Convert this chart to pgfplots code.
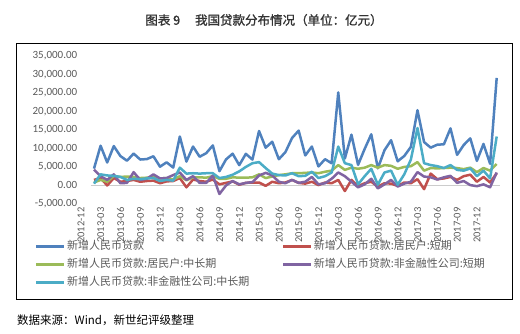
\documentclass[border=0pt]{standalone}
\usepackage{pgfplots}
\pgfplotsset{compat=1.18}
\usepackage{fontspec}
\setmainfont{Carlito}
\newfontfamily\cjk{Noto Sans CJK SC}
\newfontfamily\cjkb[FakeBold=1.2]{Noto Sans CJK SC}
\definecolor{cB}{HTML}{4F81BD}
\definecolor{cR}{HTML}{C0504D}
\definecolor{cG}{HTML}{9BBB59}
\definecolor{cP}{HTML}{8064A2}
\definecolor{cT}{HTML}{4BACC6}
\definecolor{txt}{HTML}{595959}
\pgfplotstableread{
i B R G P T
0 4543 1500 800 4300 500
1 10721 2000 1500 2500 3000
2 6200 0 1000 1500 2700
3 10625 2000 2600 3000 2600
4 7929 1000 2300 600 2300
5 6674 1200 2400 700 1500
6 8605 1500 2300 3600 1800
7 6999 1000 2000 1500 1700
8 7113 1200 2100 1800 1900
9 7870 1300 2300 3000 2000
10 5061 600 1900 1900 1200
11 6246 1100 2000 2000 1500
12 4825 1200 1600 2800 1300
13 13200 2000 2500 3500 4800
14 6445 -500 1400 1500 3200
15 10500 1600 2200 2500 3300
16 7747 1200 2200 700 3200
17 8708 1000 2100 700 3300
18 10800 1600 2500 2700 3300
19 3852 300 1800 -2300 2000
20 7025 700 1800 0 2300
21 8572 1100 2200 1200 2900
22 5483 200 2100 300 3800
23 8527 700 2100 700 5000
24 6973 800 2200 900 6000
25 14700 800 3000 2700 6300
26 10200 -100 2000 3400 4700
27 11800 1000 2400 2700 3200
28 7079 600 2800 1000 2800
29 9008 800 3000 600 2700
30 12800 1500 3300 1500 3300
31 14800 700 3300 700 2500
32 8096 500 3400 1000 2600
33 10500 1000 3500 2300 3700
34 5136 100 3300 300 2000
35 7089 800 3700 600 2500
36 5978 600 4000 1800 3500
37 25100 1500 5500 3500 10500
38 7266 -1500 4200 2500 6000
39 13700 1500 4800 1000 5500
40 5556 -200 4500 -500 300
41 9855 600 4800 300 2500
42 13800 1000 5500 1800 4500
43 4636 -300 4800 -800 200
44 9487 600 5500 300 3500
45 12200 500 5300 1500 4000
46 6513 -100 4500 -300 200
47 7946 800 5000 500 3000
48 10400 600 5200 1000 7000
49 20300 1700 6300 3600 15500
50 11700 -1000 4000 2400 6000
51 10200 3200 4700 2200 5500
52 11000 1700 4600 1600 5200
53 11100 1900 4700 2200 4700
54 15400 2300 4800 2600 5500
55 8255 1500 4700 700 4200
56 10900 2500 4400 1200 4000
57 12700 2900 4800 100 4600
58 6632 1000 3600 -200 2500
59 11200 2300 4700 300 4000
60 5844 800 4000 -500 1900
61 29000 3300 5800 3500 13200
}\data
\begin{document}
\begin{tikzpicture}[x=1pt,y=1pt]
\useasboundingbox (-90.7,-129) rectangle (429.3,204);
\draw[black, line width=0.8pt] (-74.7,161) rectangle (421.3,-95);
\node[font=\cjkb\fontsize{12.5}{14}\selectfont, text=black!80] at (173.3,184) {图表 9\hspace{1.2em}我国贷款分布情况（单位：亿元）};
\node[anchor=west, font=\cjk\fontsize{11.5}{13}\selectfont, inner xsep=0pt] at (-73.7,-116) {数据来源：Wind，新世纪评级整理};
\begin{axis}[
  at={(0,0)}, anchor=south west,
  scale only axis, width=409.3pt, height=148.3pt,
  xmin=-0.5, xmax=61.5, ymin=-5000, ymax=35000,
  axis line style={draw=none},
  tick style={draw=none},
  ytick={-5000,0,...,35000},
  yticklabel style={text=txt, font=\fontsize{11}{12}\selectfont, xshift=-10pt, /pgf/number format/.cd, fixed, fixed zerofill, precision=2, 1000 sep={,}, assume math mode=true},
  scaled y ticks=false,
  xtick={0,3,...,60},
  xticklabels={2012-12,2013-03,2013-06,2013-09,2013-12,2014-03,2014-06,2014-09,2014-12,2015-03,2015-06,2015-09,2015-12,2016-03,2016-06,2016-09,2016-12,2017-03,2017-06,2017-09,2017-12},
  xticklabel style={rotate=90, anchor=east, text=txt, font=\fontsize{10.5}{12}\selectfont, yshift=13pt},
  extra y ticks={0}, extra y tick labels={},
  extra y tick style={grid=major, grid style={draw=black!20, line width=0.5pt}},
  every axis plot/.append style={line width=2.5pt, no markers, line join=round},
  legend columns=2,
  legend cell align=left,
  legend image code/.code={\draw[#1] (0pt,0pt) -- (28pt,0pt);},
  legend style={at={(axis description cs:-0.136,-0.249)}, anchor=north west, draw=none, fill=none,
    font=\cjk\fontsize{11}{12}\selectfont, text=txt,
    /tikz/every even column/.append style={column sep=31pt},
    row sep=7pt, inner xsep=0pt, inner ysep=0pt,
    nodes={inner xsep=1.5pt, inner ysep=0pt, text height=8.5pt, text depth=2.5pt}},
]
\addplot[cB] table[x=i,y=B] {\data};
\addlegendentry{新增人民币贷款}
\addplot[cR] table[x=i,y=R] {\data};
\addlegendentry{新增人民币贷款:居民户:短期}
\addplot[cG] table[x=i,y=G] {\data};
\addlegendentry{新增人民币贷款:居民户:中长期}
\addplot[cP] table[x=i,y=P] {\data};
\addlegendentry{新增人民币贷款:非金融性公司:短期}
\addplot[cT] table[x=i,y=T] {\data};
\addlegendentry{新增人民币贷款:非金融性公司:中长期}
\end{axis}
\end{tikzpicture}
\end{document}
